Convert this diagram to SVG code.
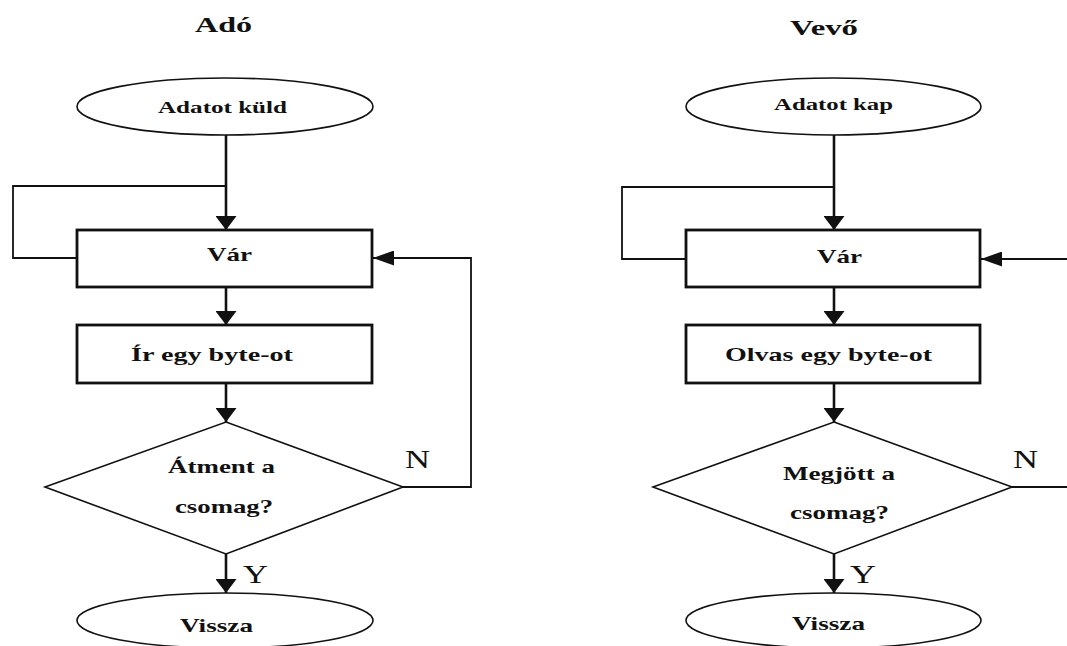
<svg xmlns="http://www.w3.org/2000/svg" width="1067" height="646" viewBox="0 0 1067 646">
<style>
  .t { font-family: "Liberation Serif", "Times New Roman", serif; font-weight: bold; fill: #111; }
  .lbl { font-family: "Liberation Serif", "Times New Roman", serif; font-weight: normal; fill: #111; }
  .shape { fill: #fff; stroke: #111; stroke-width: 1.6; }
  .box { fill: #fff; stroke: #111; stroke-width: 2.8; }
  .thick { fill: none; stroke: #111; stroke-width: 2.6; }
  .thin { fill: none; stroke: #111; stroke-width: 1.8; }
</style>
<defs>
  <marker id="av" markerUnits="userSpaceOnUse" markerWidth="14" markerHeight="21" refX="14" refY="10.5" orient="auto">
    <path d="M0,0 L14,10.5 L0,21 Z" fill="#111"/>
  </marker>
  <marker id="ah" markerUnits="userSpaceOnUse" markerWidth="21" markerHeight="15" refX="21" refY="7.5" orient="auto">
    <path d="M0,0 L21,7.5 L0,15 Z" fill="#111"/>
  </marker>
</defs>
<rect width="1067" height="646" fill="#fff"/>

<g id="connectors">
  <!-- left -->
  <line class="thick" x1="226" y1="135" x2="226" y2="230" marker-end="url(#av)"/>
  <polyline class="thin" points="226,186 13,186 13,258 77,258"/>
  <line class="thick" x1="226" y1="287" x2="226" y2="325" marker-end="url(#av)"/>
  <line class="thick" x1="226" y1="383" x2="226" y2="422" marker-end="url(#av)"/>
  <line class="thick" x1="226" y1="554" x2="226" y2="593" marker-end="url(#av)"/>
  <polyline class="thin" points="403,487 471,487 471,258 373,258" marker-end="url(#ah)"/>
  <!-- right -->
  <line class="thick" x1="834" y1="135" x2="834" y2="230" marker-end="url(#av)"/>
  <polyline class="thin" points="834,187 622,187 622,259 686,259"/>
  <line class="thick" x1="834" y1="287" x2="834" y2="325" marker-end="url(#av)"/>
  <line class="thick" x1="834" y1="383" x2="834" y2="422" marker-end="url(#av)"/>
  <line class="thick" x1="834" y1="554" x2="834" y2="593" marker-end="url(#av)"/>
  <line class="thin" x1="1067" y1="259" x2="981" y2="259" marker-end="url(#ah)"/>
  <line class="thin" x1="1012" y1="487" x2="1067" y2="487"/>
  <!-- labels -->
  <text class="lbl" x="405" y="468" font-size="25" textLength="25" lengthAdjust="spacingAndGlyphs">N</text>
  <text class="lbl" x="243" y="583" font-size="25" textLength="25" lengthAdjust="spacingAndGlyphs">Y</text>
  <text class="lbl" x="1013" y="468" font-size="25" textLength="25" lengthAdjust="spacingAndGlyphs">N</text>
  <text class="lbl" x="850" y="583" font-size="25" textLength="26" lengthAdjust="spacingAndGlyphs">Y</text>
</g>

<g id="title-ado">
  <text class="t" x="195" y="32" font-size="21" textLength="57" lengthAdjust="spacingAndGlyphs">Adó</text>
</g>
<g id="title-vevo">
  <text class="t" x="790" y="35" font-size="21" textLength="68" lengthAdjust="spacingAndGlyphs">Vevő</text>
</g>

<g id="ado-start">
  <ellipse class="shape" cx="225" cy="106.5" rx="148" ry="28.5"/>
  <text class="t" x="158" y="113" font-size="17" textLength="129" lengthAdjust="spacingAndGlyphs">Adatot küld</text>
</g>
<g id="ado-var">
  <rect class="box" x="77" y="230" width="295" height="57"/>
  <text class="t" x="207" y="261" font-size="19" textLength="45" lengthAdjust="spacingAndGlyphs">Vár</text>
</g>
<g id="ado-ir">
  <rect class="box" x="77" y="325" width="295" height="58"/>
  <text class="t" x="131" y="361" font-size="19" textLength="162" lengthAdjust="spacingAndGlyphs">Ír egy byte-ot</text>
</g>
<g id="ado-decision">
  <polygon class="shape" points="226,422 403,487 226,554 45,487"/>
  <text class="t" x="168" y="473" font-size="19" textLength="107" lengthAdjust="spacingAndGlyphs">Átment a</text>
  <text class="t" x="175" y="513" font-size="19" textLength="98" lengthAdjust="spacingAndGlyphs">csomag?</text>
</g>
<g id="ado-end">
  <ellipse class="shape" cx="225" cy="620.5" rx="148" ry="27.5"/>
  <text class="t" x="180" y="632" font-size="19" textLength="73" lengthAdjust="spacingAndGlyphs">Vissza</text>
</g>

<g id="vevo-start">
  <ellipse class="shape" cx="833.5" cy="106.5" rx="147.5" ry="28.5"/>
  <text class="t" x="774" y="110" font-size="17" textLength="119" lengthAdjust="spacingAndGlyphs">Adatot kap</text>
</g>
<g id="vevo-var">
  <rect class="box" x="686" y="230" width="294" height="57"/>
  <text class="t" x="817" y="263" font-size="19" textLength="45" lengthAdjust="spacingAndGlyphs">Vár</text>
</g>
<g id="vevo-olvas">
  <rect class="box" x="686" y="325" width="294" height="58"/>
  <text class="t" x="725" y="361" font-size="19" textLength="207" lengthAdjust="spacingAndGlyphs">Olvas egy byte-ot</text>
</g>
<g id="vevo-decision">
  <polygon class="shape" points="834,422 1012,487 834,554 653,487"/>
  <text class="t" x="783" y="480" font-size="19" textLength="112" lengthAdjust="spacingAndGlyphs">Megjött a</text>
  <text class="t" x="790" y="519" font-size="19" textLength="99" lengthAdjust="spacingAndGlyphs">csomag?</text>
</g>
<g id="vevo-end">
  <ellipse class="shape" cx="833.5" cy="620.5" rx="147.5" ry="27.5"/>
  <text class="t" x="792" y="630" font-size="19" textLength="73" lengthAdjust="spacingAndGlyphs">Vissza</text>
</g>
</svg>
